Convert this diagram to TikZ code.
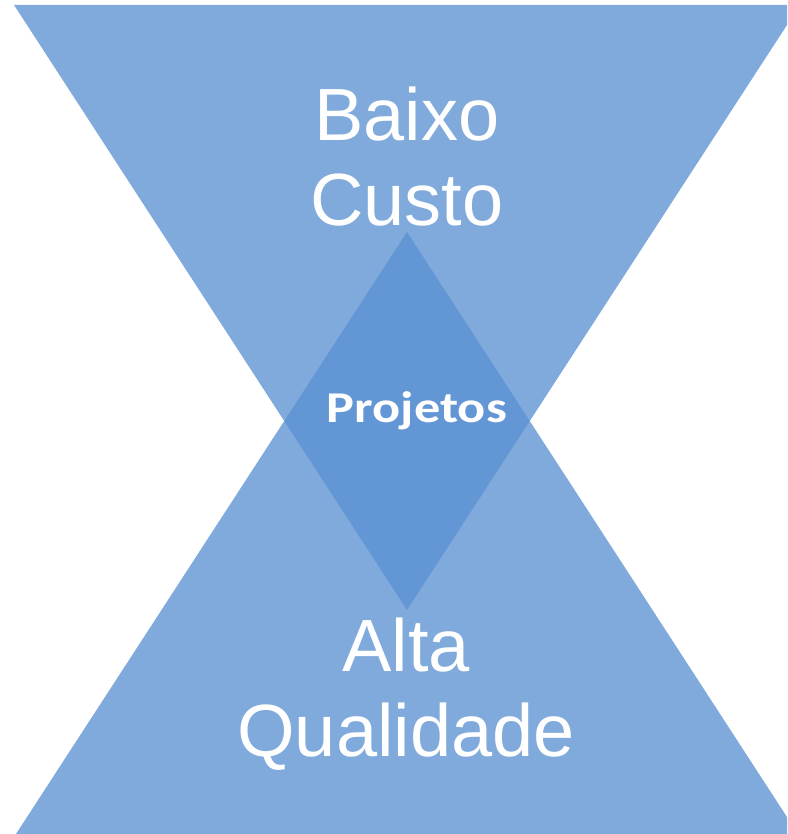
\documentclass[tikz,border=0pt]{standalone}
\usepackage{fontspec}
\setmainfont{Liberation Sans}
\newfontfamily\projfont[FakeStretch=1.19]{Carlito}
\definecolor{triblue}{RGB}{89,144,209}

\tikzset{
	tri/.style = {fill = triblue, fill opacity = 0.764},
	bigtext/.style = {text = white, align = center, inner sep = 0,
		font = \fontsize{74pt}{85pt}\selectfont}
}

\begin{document}
\begin{tikzpicture}[x = 1pt, y = 1pt]
	\useasboundingbox (0,0) rectangle (787,834);
	\clip (0,0) rectangle (787,834);
	% upper triangle, tip down
	\fill [tri] (14,829) -- (800,829) -- (407,224) -- cycle;
	% lower triangle, tip up
	\fill [tri] (16,0) -- (798,0) -- (407,602) -- cycle;
	\node (custo) at (407,608) [bigtext, anchor = base] {Baixo\\Custo};
	\node (qualidade) at (406,77) [bigtext, anchor = base] {Alta\\Qualidade};
	\node (projetos) at (417,411) [anchor = base, inner sep = 0, text = white,
		font = \projfont\bfseries\fontsize{44pt}{50pt}\selectfont] {Projetos};
\end{tikzpicture}
\end{document}
